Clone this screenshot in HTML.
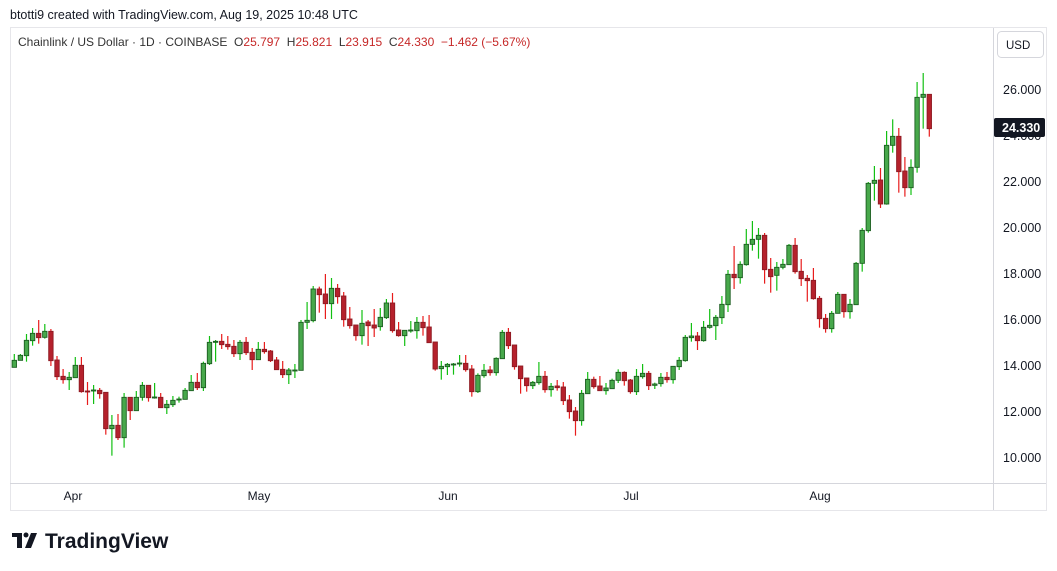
<!DOCTYPE html>
<html><head><meta charset="utf-8"><style>
html,body{margin:0;padding:0;background:#fff;width:1057px;height:571px;overflow:hidden;font-family:"Liberation Sans","DejaVu Sans",sans-serif}
</style></head><body>
<svg id="s" width="1057" height="571" xmlns="http://www.w3.org/2000/svg" style="position:absolute;left:0;top:0">
<text x="10" y="19" fill="#131722" font-family="Liberation Sans, sans-serif" style="font-size:12.5px">btotti9 created with TradingView.com, Aug 19, 2025 10:48 UTC</text>
<rect x="10.5" y="27.5" width="1036" height="483" fill="none" stroke="#e6e6ea"/>
<line x1="993.5" y1="28" x2="993.5" y2="510" stroke="#d5d6dc"/>
<line x1="10" y1="483.5" x2="1046" y2="483.5" stroke="#d5d6dc"/>
<text x="18" y="46" fill="#333" font-family="Liberation Sans, sans-serif" style="font-size:12px" xml:space="preserve">Chainlink / US Dollar · 1D · COINBASE  O<tspan fill="#c62828">25.797</tspan>  H<tspan fill="#c62828">25.821</tspan>  L<tspan fill="#c62828">23.915</tspan>  C<tspan fill="#c62828">24.330  −1.462 (−5.67%)</tspan></text>
<rect x="997.5" y="31.5" width="46" height="26" rx="4" fill="#fff" stroke="#d5d6dc"/>
<text x="1006" y="49" fill="#131722" font-family="Liberation Sans, sans-serif" style="font-size:11.5px">USD</text>
<g fill="#131722" font-family="Liberation Sans, sans-serif" style="font-size:12.5px">
<text x="1003" y="94">26.000</text>
<text x="1003" y="140">24.000</text>
<text x="1003" y="186">22.000</text>
<text x="1003" y="232">20.000</text>
<text x="1003" y="278">18.000</text>
<text x="1003" y="324">16.000</text>
<text x="1003" y="370">14.000</text>
<text x="1003" y="416">12.000</text>
<text x="1003" y="462">10.000</text>
</g>
<rect x="994" y="118" width="51" height="19" rx="2" fill="#131722"/>
<text x="1002" y="132" font-weight="bold" fill="#fff" font-family="Liberation Sans, sans-serif" style="font-size:12.5px">24.330</text>
<g fill="#131722" font-family="Liberation Sans, sans-serif" text-anchor="middle" style="font-size:12px">
<text x="73" y="500">Apr</text><text x="259" y="500">May</text><text x="448" y="500">Jun</text><text x="631" y="500">Jul</text><text x="820" y="500">Aug</text>
</g>
<g id="c"></g>
<g fill="#131722">
<rect x="12" y="533" width="10" height="4"/><rect x="17" y="533" width="5" height="15"/>
<circle cx="26" cy="535" r="2.5"/><polygon points="31,533 37,533 31,548 25,548"/>
</g>
<text x="45" y="548" font-size="21" font-weight="bold" fill="#131722" font-family="Liberation Sans, sans-serif">TradingView</text>
</svg>
<script>
var Z1=[[262,241,222,262],[241,226,222,241],[227,181,162,245],[182,160,144,197],[160,173,120,191],[172,154,132,176],[154,242,147,258],[240,290,228,300],[289,299,267,311],[299,292,276,330],[293,256,231,293],[256,335,231,338],[333,335,306,375],[332,330,315,372],[331,341,324,356],[337,446,337,464],[446,436,405,527],[436,473,402,480],[473,352,339,503],[352,392,352,420],[392,352,333,392],[352,316,306,362],[316,353,316,365],[353,351,309,356],[352,383,339,383],[383,373,360,402],[374,361,348,381],[358,357,350,368],[358,331,324,358],[332,307,285,332],[307,323,279,330],[323,250,245,333],[251,187,168,255],[187,184,180,245],[184,194,162,207],[193,200,168,209],[199,221,180,231],[221,187,180,240],[187,218,171,225],[217,239,204,270],[239,208,186,239],[208,215,186,221],[213,242,210,246],[240,269,231,269],[268,284,243,294],[284,270,264,312],[272,270,252,294],[271,127,120,271],[127,121,66,147]];
var Z2=[[152,57,48,157],[57,74,50,128],[72,101,12,147],[101,55,24,147],[55,80,42,101],[78,149,66,170],[147,167,111,176],[165,197,165,212],[197,160,120,224],[156,167,150,228],[165,174,117,201],[170,142,114,182],[143,99,87,147],[99,182,69,188],[180,197,156,200],[197,181,181,228],[182,180,153,188],[182,157,141,206],[157,173,138,197],[171,218,135,218],[216,297,216,302],[296,289,273,329],[290,283,279,315],[284,282,279,314],[281,279,255,290],[280,299,255,305],[297,365,285,380],[365,316,310,369],[317,301,282,323],[300,308,288,317],[308,265,262,317],[266,187,180,266],[187,227,174,237],[225,290,225,299],[288,326,288,371],[324,347,324,365],[347,337,333,357],[338,319,276,344],[319,359,303,368],[359,349,339,380],[348,353,330,362],[351,392,336,405],[390,425,375,446],[423,452,411,497],[452,370,360,467],[371,328,306,371],[328,350,320,356],[348,362,318,362],[362,354,339,374],[356,331,326,356],[331,307,298,339]];
var Z3=[[487,512,484,527],[510,545,507,551],[545,499,477,555],[500,490,462,506],[490,527,483,540],[526,522,518,537],[521,502,489,530],[502,509,486,518],[509,469,469,521],[470,451,441,480],[452,382,375,455],[383,378,339,395],[378,392,366,420],[392,352,333,395],[352,346,297,356],[347,322,315,390],[323,283,258,342],[284,193,180,306],[193,203,108,237],[203,163,154,221],[164,103,57,167],[103,88,33,122],[88,76,54,146],[76,179,69,221],[178,200,144,248],[196,172,156,242],[172,163,147,178],[164,106,102,164],[106,185,84,191],[184,206,147,228],[205,212,195,275],[211,266,174,269],[265,326,258,353],[325,356,312,368],[356,310,303,368],[310,253,246,310],[253,305,253,323],[305,283,267,326],[284,160,156,284],[160,61,54,185]];
var Z4=[[512,370,366,518],[370,361,318,422],[360,432,324,444],[432,256,213,434],[256,229,178,278],[229,335,204,398],[333,383,291,410],[383,322,298,405],[322,112,66,338],[112,103,39,206],[103,206,103,230]];
var all=[];
function add(a,off){a.forEach(function(d){all.push(d.map(function(v){return off+v/3;}));});}
add(Z1,280);add(Z2,270);add(Z3,210);add(Z4,60);
var h='';
all.forEach(function(d,i){
 var x=14.3+6.1*i, o=d[0],c=d[1],hi=Math.min(d[2],o,c),lo=Math.max(d[3],o,c);
 var g=c<=o; var top=Math.min(o,c),bh=Math.max(Math.abs(o-c),1);
 h+='<line x1="'+x+'" y1="'+hi+'" x2="'+x+'" y2="'+lo+'" stroke="'+(g?'#12c012':'#e81c1c')+'" stroke-width="1.2"/>';
 h+='<rect x="'+(x-2.2)+'" y="'+top+'" width="4.4" height="'+bh+'" fill="'+(g?'#47a84b':'#b5212c')+'" stroke="'+(g?'#1b5e20':'#8e1a22')+'" stroke-width="0.9"/>';
});
document.getElementById('c').innerHTML=h;
</script>
</body></html>
